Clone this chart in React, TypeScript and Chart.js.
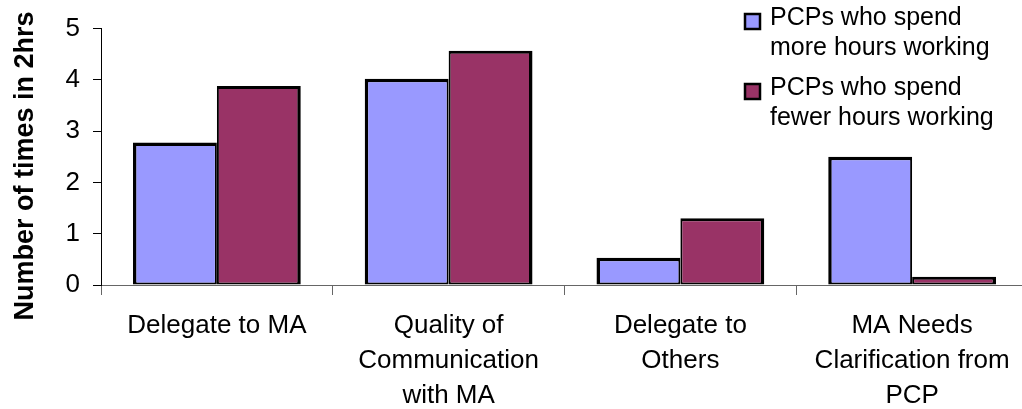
import React, { useEffect, useRef } from "react";
import { Chart, registerables } from "chart.js";

Chart.register(...registerables);

const categories: string[][] = [
  ["Delegate to MA"],
  ["Quality of", "Communication", "with MA"],
  ["Delegate to", "Others"],
  ["MA Needs", "Clarification from", "PCP"],
];
const moreHours: number[] = [2.78, 4.02, 0.53, 2.5];
const fewerHours: number[] = [3.88, 4.57, 1.3, 0.16];
const legendLines: string[][] = [
  ["PCPs who spend", "more hours working"],
  ["PCPs who spend", "fewer hours working"],
];
const yTicks: number[] = [0, 1, 2, 3, 4, 5];
const yTitle = "Number of times in 2hrs";

const FONT = "'Liberation Sans', Arial, sans-serif";

const legendPlugin = {
  id: "customLegend",
  afterDraw(chart: any) {
    const ctx = chart.ctx;
    ctx.save();
    ctx.font = `25px ${FONT}`;
    ctx.textBaseline = "alphabetic";
    ctx.textAlign = "left";
    chart.data.datasets.forEach((ds: any, i: number) => {
      const baseY = 25 + i * 70;
      ctx.fillStyle = ds.backgroundColor;
      ctx.fillRect(745, baseY - 11, 15, 15);
      ctx.strokeStyle = "#000";
      ctx.lineWidth = 2.5;
      ctx.strokeRect(745, baseY - 11, 15, 15);
      ctx.fillStyle = "#000";
      legendLines[i].forEach((line, j) => {
        ctx.fillText(line, 770, baseY + j * 30);
      });
    });
    // y axis title
    ctx.font = `bold 27px ${FONT}`;
    ctx.textAlign = "center";
    ctx.textBaseline = "alphabetic";
    ctx.translate(33, 166);
    ctx.rotate(-Math.PI / 2);
    ctx.fillText(yTitle, 0, 0);
    ctx.restore();
  },
};

export default function App() {
  const ref = useRef<HTMLCanvasElement | null>(null);
  useEffect(() => {
    if (!ref.current) return;
    const chart = new Chart(ref.current, {
      type: "bar",
      data: {
        labels: categories,
        datasets: [
          {
            label: legendLines[0].join(" "),
            data: moreHours,
            backgroundColor: "#9999FF",
            borderColor: "#000000",
            borderWidth: { top: 3.5, left: 3.5, right: 2, bottom: 2 },
            borderSkipped: false,
          },
          {
            label: legendLines[1].join(" "),
            data: fewerHours,
            backgroundColor: "#993366",
            borderColor: "#000000",
            borderWidth: { top: 3, left: 2, right: 3.5, bottom: 2 },
            borderSkipped: false,
          },
        ],
      },
      options: {
        animation: false,
        responsive: false,
        devicePixelRatio: 1,
        layout: { padding: { top: 26, left: 0, right: 0, bottom: 0 } },
        datasets: {
          bar: { categoryPercentage: 0.724, barPercentage: 1 },
        },
        plugins: {
          legend: { display: false },
          tooltip: { enabled: false },
          title: { display: false },
        },
        scales: {
          x: {
            afterFit: (s: any) => {
              s.height = 124;
            },
            grid: {
              display: true,
              drawOnChartArea: false,
              drawTicks: true,
              tickLength: 10,
              offset: true,
              color: "#666666",
              lineWidth: 1,
            },
            border: { display: true, color: "#666666", width: 1 },
            ticks: {
              color: "#000000",
              font: { family: FONT, size: 26, lineHeight: 1.346 },
              maxRotation: 0,
              autoSkip: false,
              padding: 13,
            },
          },
          y: {
            min: 0,
            max: 5,
            afterFit: (s: any) => {
              s.width = 101;
            },
            afterBuildTicks: (s: any) => {
              s.ticks = yTicks.map((v) => ({ value: v }));
            },
            grid: {
              display: true,
              drawOnChartArea: false,
              drawTicks: true,
              tickLength: 8,
              color: "#000000",
              lineWidth: 1,
            },
            border: { display: true, color: "#000000", width: 1 },
            ticks: {
              color: "#000000",
              font: { family: FONT, size: 26 },
              padding: 13,
            },
            title: { display: false },
          },
        },
      },
      plugins: [legendPlugin],
    });
    return () => chart.destroy();
  }, []);
  return (
    <div
      style={{
        position: "fixed",
        left: 0,
        top: 0,
        width: 1022,
        height: 409,
        overflow: "hidden",
        background: "#fff",
      }}
    >
      <canvas ref={ref} width={1028} height={409} />
    </div>
  );
}
